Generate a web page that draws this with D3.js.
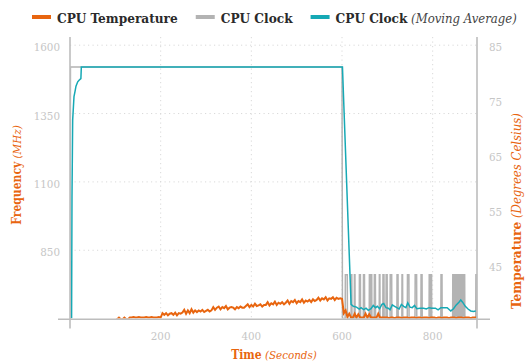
<!DOCTYPE html>
<html>
<head>
<meta charset="utf-8">
<script src="https://cdn.jsdelivr.net/npm/d3@7"></script>
<style>
  html, body { margin: 0; padding: 0; background: #fff; }
  svg { display: block; }
  text { font-family: "DejaVu Serif Condensed", "DejaVu Serif", serif; font-stretch: condensed; }
</style>
</head>
<body>
<svg id="chart" width="525" height="362"></svg>
<script>
// ---- axis ticks ----
const timeTicks = [200, 400, 600, 800];
const freqTicks = [850, 1100, 1350, 1600];
const tempTicks = [45, 55, 65, 75, 85];

// ---- CPU clock (MHz): sustained load, then idle with short boosts ----
const clockLoadTime = [0, 1, 600, 601];
const clockLoadMhz = [600, 1520, 1520, 600];
const clockIdleMhz = 600;
const clockBoostMhz = 760;
const clockBoosts = [
  [607, 612], [620, 622], [627, 629], [638, 641], [647, 650], [660, 662], [664, 666],
  [671, 674], [682, 684], [690, 693], [697, 700], [706, 710], [721, 724], [732, 734],
  [744, 748], [761, 765], [774, 777], [792, 795], [796, 798], [818, 821],
  [844, 846], [847, 849], [850, 852], [853, 855], [856, 858], [859, 860],
  [862, 864], [865, 867], [868, 871], [895, 897]
];
const clockEnd = 898;

// ---- CPU clock moving average (MHz) ----
const avgTime = [3.5, 4.4, 5.9, 8.8, 11, 13.2, 17, 20, 24, 25, 601, 620,
  625, 632, 638, 642, 648, 653, 658, 664, 669, 674, 678, 683, 688, 692, 697, 702,
  706, 711, 716, 721, 726, 731, 736, 741, 745, 750, 755, 760, 765, 772, 780, 786,
  792, 798, 806, 812, 818, 825, 832, 840, 846, 852, 858, 862, 866, 872, 878, 884, 890, 895];
const avgMhz = [600, 1045, 1327, 1412, 1430, 1450, 1466, 1472, 1478, 1520, 1520, 652,
  645, 642, 635, 640, 633, 638, 630, 636, 648, 640, 645, 636, 652, 655, 640, 638,
  632, 650, 645, 640, 635, 652, 645, 640, 658, 642, 640, 648, 636, 638, 638, 635,
  640, 638, 638, 632, 640, 640, 640, 628, 636, 650, 660, 668, 660, 645, 635, 628, 626, 628];

// ---- CPU temperature (°C), one reading every 4 s from t = 0 ----
const tempStep = 4;
const tempC = [
  // 0 - 100
  35.0, 35.0, 35.0, 35.0, 35.0, 35.0, 35.0, 35.0, 35.0, 35.0, 35.0, 35.0, 35.0,
  35.0, 35.0, 35.0, 35.0, 35.0, 35.0, 35.0, 35.0, 35.0, 35.0, 35.0, 35.0, 35.0,
  // 104 - 128
  35.2, 35.5, 35.2, 35.2, 35.5, 35.2, 35.2,
  // 132 - 200
  35.5, 35.5, 35.6, 35.5, 35.5, 35.6, 35.5, 35.5, 35.5, 35.6, 35.5, 35.5, 35.6, 35.5, 35.5, 35.5, 35.6, 35.5,
  // 204 - 248
  36.3, 36.0, 36.3, 35.9, 36.2, 36.3, 36.0, 36.4, 35.9, 36.3, 36.2, 36.4,
  // 252 - 276
  36.9, 36.2, 36.8, 36.3, 37.0, 36.4, 36.8,
  // 280 - 312
  36.5, 36.8, 36.6, 36.9, 36.5, 36.7, 36.9, 36.6, 36.8,
  // 316 - 356
  37.4, 36.9, 37.3, 37.5, 37.0, 37.4, 37.2, 37.6, 37.0, 37.3, 37.4,
  // 360 - 384
  37.3, 37.0, 37.4, 37.2, 37.5, 37.3, 37.3,
  // 388 - 428
  37.6, 37.9, 37.4, 37.8, 37.5, 38.0, 37.6, 37.7, 37.9, 37.5, 37.8,
  // 432 - 472
  37.8, 38.3, 37.7, 38.1, 37.9, 38.4, 37.8, 38.2, 38.0, 38.3, 37.9,
  // 476 - 540
  38.2, 38.6, 38.0, 38.5, 38.3, 38.7, 38.1, 38.5, 38.3, 38.8, 38.2, 38.6, 38.4, 38.7, 38.3, 38.8, 38.5,
  // 544 - 596
  38.7, 39.1, 38.6, 39.0, 38.8, 39.2, 38.6, 39.0, 38.9, 39.2, 38.7, 39.1, 38.9, 39.0,
  // 600 - 696
  38.9, 36.3, 36.8, 35.6, 36.2, 35.5, 35.5, 36.2, 35.5, 36.1, 35.5, 35.5, 35.5, 36.2,
  35.5, 36.1, 35.5, 35.5, 35.5, 35.5, 36.2, 35.5, 35.5, 35.5, 35.5,
  // 700 - 896
  35.5, 35.4, 35.5, 35.5, 35.4, 35.5, 35.5, 35.5, 35.4, 35.5, 35.5, 35.5, 35.4, 35.5,
  35.5, 35.5, 35.4, 35.5, 35.5, 35.4, 35.5, 35.5, 35.5, 35.4, 35.5, 35.5, 35.5, 35.4,
  35.5, 35.5, 35.4, 35.5, 35.5, 35.5, 35.4, 35.5, 35.5, 35.5, 35.4, 35.5, 35.5, 35.5,
  35.4, 35.5, 35.5, 35.5, 35.4, 35.5, 35.5, 35.5
];

// ---- series records ----
const clockSeries = clockLoadTime.map((t, i) => ({ t, v: clockLoadMhz[i] }));
clockBoosts.forEach(([a, b]) => {
  clockSeries.push({ t: a, v: clockIdleMhz }, { t: a + 0.4, v: clockBoostMhz },
                   { t: b - 0.4, v: clockBoostMhz }, { t: b, v: clockIdleMhz });
});
clockSeries.push({ t: clockEnd, v: clockIdleMhz });
const avgSeries = avgTime.map((t, i) => ({ t, v: avgMhz[i] }));
const tempSeries = tempC.map((v, i) => ({ t: i * tempStep, v }));

// ---- layout ----
const M = { left: 70, right: 478, top: 37, bottom: 318.6 };
const ORANGE = "#e8650f", GRAY = "#b3b3b3", TEAL = "#16a9b5";
const AXIS = "#bdbdbd", TICK = "#c6c6c6", GRID = "#d9d9d9";

const x = d3.scaleLinear().domain([0, 900]).range([M.left, M.right]);
const yF = d3.scaleLinear().domain([600, 1630]).range([M.bottom, M.top]);
const yT = d3.scaleLinear().domain([35.31, 86.5]).range([M.bottom, M.top]);

const svg = d3.select("#chart");

svg.append("defs").append("clipPath").attr("id", "plot-clip")
  .append("rect").attr("x", M.left).attr("y", M.top - 2)
  .attr("width", M.right - M.left).attr("height", M.bottom - M.top + 2);

// grid
const grid = svg.append("g").attr("stroke", GRID).attr("stroke-width", 1)
  .attr("stroke-dasharray", "1.2,3.3");
grid.selectAll("line.v").data(timeTicks).join("line").attr("class", "v")
  .attr("x1", d => x(d)).attr("x2", d => x(d)).attr("y1", M.top).attr("y2", M.bottom);
grid.selectAll("line.h").data(freqTicks).join("line").attr("class", "h")
  .attr("x1", M.left).attr("x2", M.right).attr("y1", d => yF(d)).attr("y2", d => yF(d));

// data lines
const plot = svg.append("g").attr("clip-path", "url(#plot-clip)");
const lineF = d3.line().x(d => x(d.t)).y(d => yF(d.v));
const lineT = d3.line().x(d => x(d.t)).y(d => yT(d.v));

plot.append("path").datum(clockSeries).attr("d", lineF)
  .attr("fill", "none").attr("stroke", GRAY).attr("stroke-width", 1.5);
plot.append("path").datum(tempSeries).attr("d", lineT)
  .attr("fill", "none").attr("stroke", ORANGE).attr("stroke-width", 2)
  .attr("stroke-linejoin", "miter");
plot.append("path").datum(avgSeries).attr("d", lineF)
  .attr("fill", "none").attr("stroke", TEAL).attr("stroke-width", 1.5);

// axis domain lines (extended past the plot corners)
const axes = svg.append("g").attr("stroke", AXIS).attr("stroke-width", 1.6);
axes.append("line").attr("x1", M.left).attr("x2", M.left).attr("y1", M.top).attr("y2", M.bottom + 10);
axes.append("line").attr("x1", M.right - 1).attr("x2", M.right - 1).attr("y1", M.top).attr("y2", M.bottom + 10);
axes.append("line").attr("x1", M.left - 12).attr("x2", M.right + 12)
  .attr("y1", M.bottom + 0.6).attr("y2", M.bottom + 0.6);

// tick labels
const tickFont = 11.5;
svg.append("g").selectAll("text").data(freqTicks).join("text")
  .attr("x", M.left - 10).attr("y", d => yF(d) + 2).attr("dy", "0.35em")
  .attr("text-anchor", "end").attr("font-size", tickFont).attr("fill", TICK)
  .text(d => d);
svg.append("g").selectAll("text").data(tempTicks).join("text")
  .attr("x", M.right + 11).attr("y", d => yT(d) + 2).attr("dy", "0.35em")
  .attr("text-anchor", "start").attr("font-size", tickFont).attr("fill", TICK)
  .text(d => d);
svg.append("g").selectAll("text").data(timeTicks).join("text")
  .attr("x", d => x(d)).attr("y", 340).attr("text-anchor", "middle")
  .attr("font-size", tickFont).attr("fill", TICK)
  .text(d => d);

// axis titles: bold word + italic unit
function title(g, bold, italic, size) {
  const t = g.append("text").attr("fill", ORANGE).attr("font-size", size)
    .attr("text-anchor", "middle");
  t.append("tspan").attr("font-weight", "bold").text(bold);
  t.append("tspan").attr("font-style", "italic").attr("font-size", size - 0.5).text(" " + italic);
  return t;
}
title(svg.append("g").attr("transform", "translate(274,359)"), "Time", "(Seconds)", 12);
title(svg.append("g").attr("transform", "translate(21,175) rotate(-90)"), "Frequency", "(MHz)", 12);
title(svg.append("g").attr("transform", "translate(521,211) rotate(-90)"), "Temperature", "(Degrees Celsius)", 13.5);

// legend
const legendItems = [
  { color: ORANGE, bold: "CPU Temperature", italic: "" },
  { color: GRAY, bold: "CPU Clock", italic: "" },
  { color: TEAL, bold: "CPU Clock", italic: "(Moving Average)" }
];
const legend = svg.append("g").attr("transform", "translate(32,17)");
let lx = 0;
legendItems.forEach(item => {
  legend.append("line").attr("x1", lx).attr("x2", lx + 19).attr("y1", 0).attr("y2", 0)
    .attr("stroke", item.color).attr("stroke-width", 4);
  const t = legend.append("text").attr("x", lx + 25).attr("y", 5.5)
    .attr("font-size", 13.5).attr("fill", "#2a2a2a");
  t.append("tspan").attr("font-weight", "bold").text(item.bold);
  if (item.italic) t.append("tspan").attr("font-style", "italic").attr("font-size", 13)
    .attr("fill", "#444").text(" " + item.italic);
  lx += 25 + t.node().getComputedTextLength() + 18;
});
</script>
</body>
</html>
